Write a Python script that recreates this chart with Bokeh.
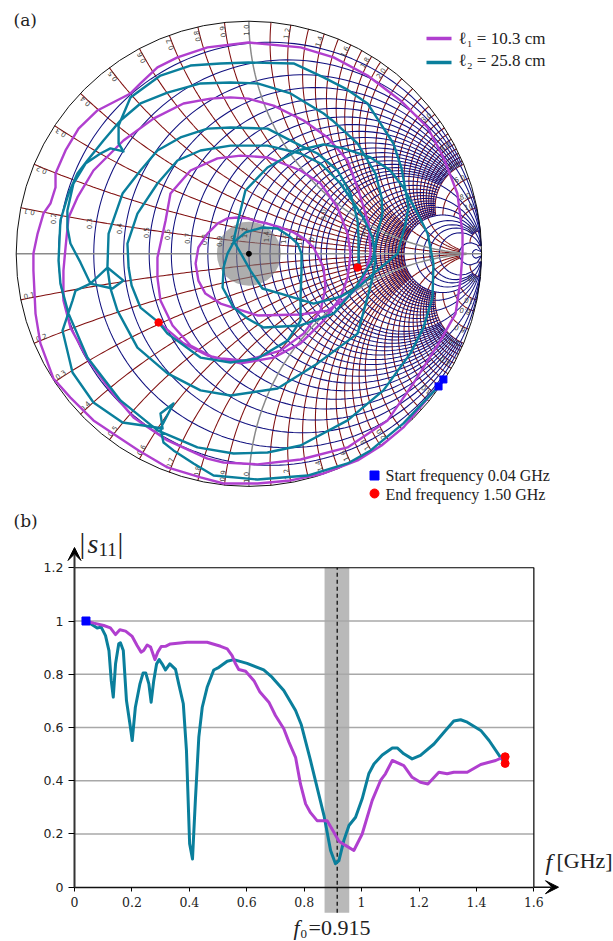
import numpy as np
from bokeh.embed import file_html
from bokeh.resources import INLINE
from bokeh.plotting import figure
from bokeh.layouts import column
from bokeh.models import FixedTicker, Arrow, VeeHead
from bokeh.core.properties import value

# ---------------- data ----------------
# (a) reflection coefficient traces on the Smith chart
l1_re = [.836,.664,.570,.467,.321,.179,.037,-.109,-.208,-.350,-.474,-.552,-.668,-.767,-.840,-.896,-.917,-.926,-.926,-.908,-.883,-.853,-.831,-.831,-.788,-.732,-.651,-.509,-.466,-.393,-.307,-.178,-.002,.222,.364,.510,.651,.768,.836,.896,.918,.918,.909,.888,.823,.707,.596,.424,.222,.037,-.109,-.178,-.350,-.496,-.595,-.689,-.767,-.797,-.797,-.788,-.775,-.737,-.668,-.539,-.410,-.281,-.165,-.079,-.002,.106,.235,.338,.424,.471,.514,.523,.492,.424,.338,.222,.037,-.122,-.187,-.217,-.229,-.217,-.178,-.135,-.092,-.049,-.006,.037,.080,.136,.192,.243,.278,.321,.329,.308,.235,.136,-.015,-.152,-.251,-.328,-.380,-.393,-.393,-.358,-.337,-.251,-.135,-.036,.080,.222,.308,.381,.424,.437,.424,.394,.321,.222,.106,-.036,-.178,-.281,-.388]
l1_im = [-.540,-.746,-.824,-.888,-.944,-.974,-.987,-.987,-.961,-.918,-.845,-.794,-.716,-.618,-.536,-.385,-.257,-.072,.001,.087,.173,.216,.285,.345,.444,.538,.616,.689,.732,.801,.844,.887,.908,.887,.844,.766,.659,.543,.414,.259,.087,.001,-.115,-.257,-.373,-.557,-.716,-.832,-.884,-.905,-.897,-.880,-.802,-.703,-.587,-.459,-.317,-.201,-.072,.027,.156,.242,.358,.487,.581,.646,.667,.672,.667,.637,.573,.500,.401,.272,.130,.001,-.115,-.188,-.244,-.261,-.265,-.214,-.171,-.115,-.042,.027,.087,.130,.152,.156,.152,.139,.130,.113,.092,.061,.027,-.059,-.145,-.244,-.343,-.416,-.459,-.446,-.394,-.308,-.201,-.102,-.016,.143,.259,.358,.410,.422,.414,.358,.302,.199,.087,.001,-.102,-.188,-.287,-.385,-.446,-.471,-.437,-.385,-.295]
l2_re = [.815,.664,.523,.424,.252,.037,-.152,-.238,-.324,-.367,-.380,-.324,-.380,-.371,-.453,-.543,-.668,-.758,-.801,-.758,-.745,-.681,-.608,-.539,-.586,-.681,-.724,-.767,-.780,-.780,-.754,-.702,-.638,-.595,-.539,-.560,-.560,-.509,-.380,-.251,-.122,-.002,.192,.321,.415,.510,.557,.621,.656,.677,.686,.673,.639,.535,.480,.394,.278,.136,.058,.007,-.066,-.036,-.015,.080,.209,.321,.407,.523,.608,.664,.725,.768,.793,.789,.750,.694,.578,.424,.222,.080,-.066,-.221,-.393,-.552,-.694,-.775,-.810,-.818,-.810,-.775,-.737,-.694,-.625,-.552,-.466,-.350,-.208,-.079,.037,.179,.321,.359,.467,.544,.570,.574,.553,.531,.450,.364,.222,.063,-.006,-.066,-.113,-.109,-.092,-.066,-.015,.058,.123,.170,.209,.226,.226,.222,.222,.166,.037,-.079,-.208,-.350,-.388,-.466,-.504,-.517,-.522,-.479,-.393,-.307,-.208,-.079,.080,.222,.308,.394,.492,.531,.544,.531,.514,.467,.295,.123,-.079,-.208,-.350,-.479,-.565,-.595,-.608,-.603,-.543,-.466,-.393,-.294,-.178,-.079,.080,.222,.295,.381,.437,.467,.471,.471,.467]
l2_im = [-.570,-.729,-.845,-.901,-.953,-.970,-.953,-.901,-.845,-.811,-.751,-.643,-.686,-.751,-.738,-.725,-.639,-.510,-.330,-.201,-.158,-.128,-.059,-.115,-.149,-.128,-.037,.044,.113,.186,.302,.388,.431,.453,.440,.474,.551,.672,.766,.809,.818,.822,.818,.758,.710,.646,.573,.474,.367,.251,.199,.130,.001,-.085,-.136,-.184,-.214,-.171,-.149,-.072,.057,.186,.272,.371,.444,.470,.453,.414,.358,.285,.173,.087,-.042,-.188,-.317,-.428,-.587,-.716,-.824,-.854,-.858,-.832,-.759,-.630,-.446,-.257,-.128,-.029,.143,.259,.345,.401,.487,.573,.646,.693,.732,.736,.732,.689,.603,.573,.474,.345,.242,.173,.087,-.029,-.158,-.257,-.308,-.317,-.278,-.231,-.145,-.059,.001,.049,.092,.113,.109,.079,.044,.001,-.072,-.188,-.287,-.373,-.450,-.467,-.446,-.343,-.295,-.231,-.136,-.059,.044,.173,.302,.401,.444,.465,.465,.431,.388,.302,.156,.070,-.029,-.102,-.171,-.343,-.471,-.579,-.609,-.587,-.514,-.403,-.244,-.149,-.059,.087,.259,.358,.444,.500,.538,.543,.538,.465,.431,.358,.259,.143,.070,-.042,-.059]

# (b) |s11| versus frequency
f1 = [.04,.067,.102,.125,.143,.158,.178,.201,.218,.232,.241,.253,.265,.28,.29,.302,.317,.334,.392,.462,.509,.532,.549,.561,.572,.596,.625,.646,.677,.70,.729,.747,.77,.787,.805,.822,.845,.88,.903,.921,.944,.973,1.002,1.037,1.066,1.083,1.107,1.147,1.176,1.205,1.231,1.269,1.298,1.321,1.368,1.415,1.467,1.491,1.5]
s1 = [1.0,.992,.983,.974,.949,.967,.962,.942,.908,.883,.889,.91,.902,.855,.883,.904,.905,.914,.92,.92,.905,.895,.87,.839,.818,.811,.776,.733,.695,.645,.595,.545,.488,.388,.313,.28,.25,.25,.207,.173,.157,.138,.2,.326,.401,.426,.476,.457,.413,.394,.388,.432,.426,.432,.432,.461,.476,.488,.49]
f2 = [.04,.06,.079,.093,.108,.12,.128,.135,.143,.154,.16,.17,.181,.193,.201,.212,.228,.239,.248,.259,.267,.276,.286,.295,.305,.317,.332,.352,.363,.379,.39,.401,.411,.421,.433,.445,.462,.485,.503,.532,.555,.601,.659,.688,.729,.77,.79,.822,.869,.892,.909,.921,.938,.956,.979,1.002,1.025,1.043,1.072,1.107,1.124,1.147,1.176,1.205,1.252,1.287,1.321,1.345,1.368,1.415,1.444,1.485,1.5]
s2 = [1.0,.987,.974,.977,.945,.889,.776,.714,.839,.914,.918,.889,.701,.614,.551,.676,.764,.805,.805,.764,.695,.776,.839,.855,.839,.816,.839,.818,.764,.689,.513,.163,.106,.326,.564,.676,.751,.816,.826,.849,.855,.841,.816,.789,.739,.664,.61,.476,.269,.138,.088,.1,.175,.232,.263,.332,.426,.463,.497,.523,.523,.501,.482,.495,.538,.582,.624,.629,.62,.589,.551,.486,.465]

x_tick_values = [.1,.2,.3,.4,.5,.6,.7,.8,.9,1,1.2,1.4,1.6,1.8,2,3,4,5,6,8,10,20]
x_tick_labels = ["0.1","0.2","0.3","0.4","0.5","0.6","0.7","0.8","0.9","1.0","1.2","1.4","1.6","1.8","2.0","3.0","4.0","5.0","6.0","8.0","10","20"]
r_tick_labels = ["0.2","0.3","0.4","0.5","0.6","0.7","0.8","0.9","1.0","1.2","1.4","1.6","1.8","2.0","3.0","4.0","5.0"]
r_tick_re = [-.840,-.689,-.560,-.444,-.350,-.268,-.195,-.130,-.070,-.019,.072,.145,.214,.265,.317,.489,.588]
r_tick_im = [.151,.129,.108,.091,.082,.066,.061,.053,.057,.091,.074,.066,.057,.048,.168,.097,.070]
f_ticks = [0,.2,.4,.6,.8,1,1.2,1.4,1.6]
s_ticks = [0,.2,.4,.6,.8,1,1.2]

MAG = "#b03fcf"
TEAL = "#0a7f9c"
R_COL = "#10107f"
X_COL = "#800f0f"
GRAY = "#8a8a8a"
SERIF = value("Liberation Serif")
DSERIF = value("DejaVu Serif")

# ---------------- (a) Smith chart ----------------
CX, CY, RAD = 248.4, 253.3, 232.7
def gx(px): return (px - CX) / RAD
def gy(py): return (CY - py) / RAD

p1 = figure(width=613, height=510, x_range=(gx(0), gx(613)), y_range=(gy(510), gy(0)),
            output_backend="svg", toolbar_location=None, min_border=0, outline_line_color=None)
p1.axis.visible = False
p1.grid.visible = False

def gam(z):
    return (z - 1) / (z + 1)

def r_arc(r, x0, x1):
    t = np.tan(np.linspace(np.arctan(x0), np.arctan(x1), 160))
    g = gam(r + 1j * t)
    return g.real.tolist(), g.imag.tolist()

def x_arc(x, r0, r1):
    t = np.tan(np.linspace(np.arctan(r0), np.arctan(r1), 120))
    g = gam(t + 1j * x)
    return g.real.tolist(), g.imag.tolist()

dense = [round(v, 2) for v in list(np.arange(.1, 2.01, .1)) + list(np.arange(2.2, 5.01, .2))]
rx, ry = [], []
def add_r(r, a, b):
    xs, ys = r_arc(r, a, b)
    rx.append(xs); ry.append(ys)
for r in dense:
    add_r(r, -5, 5)
for r in (6, 7, 8, 10):
    add_r(r, -20, 20)
for r in (20, 50):
    add_r(r, -200, 200)
for r in (.2, .5, 1, 2, 3, 4, 5):
    add_r(r, 5, 20); add_r(r, -20, -5)
for r in (1, 2, 5, 10):
    add_r(r, 20, 60); add_r(r, -60, -20)

xx, xy = [], []
def add_x(x, a, b):
    for s in (1, -1):
        xs, ys = x_arc(s * x, a, b)
        xx.append(xs); xy.append(ys)
for x in dense:
    if x != 1:
        add_x(x, 0, 5)
for x in (6, 8, 10):
    add_x(x, 0, 5)
for x in (20, 50):
    add_x(x, 0, 20)
for x in (.5, 2, 3, 4):
    add_x(x, 5, 20)

p1.multi_line(xx, xy, line_color=X_COL, line_width=1.05)
p1.multi_line(rx, ry, line_color=R_COL, line_width=1.05)

gxs1, gys1 = x_arc(1, 0, 30)
gxs2, gys2 = x_arc(-1, 0, 30)
p1.multi_line([gxs1, gxs2, [-1, 1]], [gys1, gys2, [0, 0]], line_color=GRAY, line_width=1.5)

p1.circle(x=[0], y=[0], radius=[.1375], fill_color="#7d7d7d", fill_alpha=.62, line_color=None)
p1.scatter(x=[0], y=[0], size=5, marker="circle", fill_color="black", line_color="black")
p1.circle(x=[0], y=[0], radius=[1], fill_color=None, line_color="#111111", line_width=1)

# reactance labels around the rim
up_t, up_a, up_x, up_y, lo_t, lo_a, lo_x, lo_y = [], [], [], [], [], [], [], []
for v, t in zip(x_tick_values, x_tick_labels):
    g = gam(0 + 1j * v)
    a = np.angle(g)
    up_t.append(t); up_a.append(a); up_x.append(g.real * .985); up_y.append(g.imag * .985)
    lo_t.append(t); lo_a.append(-a + np.pi); lo_x.append(g.real * .985); lo_y.append(-g.imag * .985)
p1.text(up_x, up_y, text=up_t, angle=up_a, text_align="right", text_baseline="bottom",
        text_font=value("DejaVu Sans"), text_font_size="7px", text_color="#444444")
p1.text(lo_x, lo_y, text=lo_t, angle=lo_a, text_align="left", text_baseline="bottom",
        text_font=value("DejaVu Sans"), text_font_size="7px", text_color="#444444")
p1.text(r_tick_re, r_tick_im, text=r_tick_labels, angle=np.pi / 2, text_align="center", text_baseline="middle",
        text_font=value("DejaVu Sans"), text_font_size="7px", text_color="#444444")

p1.line(l1_re, l1_im, line_color=MAG, line_width=2.4, line_join="round")
p1.line(l2_re, l2_im, line_color=TEAL, line_width=2.4, line_join="round")

p1.scatter([l1_re[0], l2_re[0]], [l1_im[0], l2_im[0]], marker="square", size=7, fill_color="#0000ff", line_color="#0000ff")
p1.scatter([l1_re[-1], l2_re[-1]], [l1_im[-1], l2_im[-1]], marker="circle", size=7.5, fill_color="#ff0000", line_color="#ff0000")

# legends and panel label
p1.text([gx(13)], [gy(19)], text=["(a)"], text_font=DSERIF, text_font_size="17px",
        text_align="left", text_baseline="middle", text_color="#222222")
p1.line([gx(426), gx(451)], [gy(38), gy(38)], line_color=MAG, line_width=3.5)
p1.line([gx(426), gx(451)], [gy(62), gy(62)], line_color=TEAL, line_width=3.5)
p1.text([gx(458), gx(458)], [gy(38), gy(60)], text=["ℓ₁ = 10.3 cm", "ℓ₂ = 25.8 cm"], text_font=SERIF,
        text_font_size="17px", text_align="left", text_baseline="middle", text_color="#222222")
p1.scatter([gx(374)], [gy(475)], marker="square", size=9, fill_color="#0000ff", line_color="#0000ff")
p1.scatter([gx(374)], [gy(493)], marker="circle", size=9, fill_color="#ff0000", line_color="#ff0000")
p1.text([gx(385), gx(385)], [gy(475), gy(494)], text=["Start frequency 0.04 GHz", "End frequency 1.50 GHz"],
        text_font=SERIF, text_font_size="16px", text_align="left", text_baseline="middle", text_color="#222222")

# ---------------- (b) |s11| ----------------
X0, XS, Y0, YS = 74.0, 287.1, 886.7, 266.2
def fx(px): return (px - X0) / XS
def fy(py): return (Y0 - py) / YS

p2 = figure(width=613, height=431, x_range=(fx(0), fx(613)), y_range=(fy(941), fy(510)),
            output_backend="svg", toolbar_location=None, min_border=0, outline_line_color=None)
p2.grid.visible = False

p2.quad(left=[.871], right=[.957], bottom=[fy(912.3)], top=[1.2], fill_color="#b9b9b9", line_color=None)
p2.segment(x0=[0] * 5, x1=[1.6] * 5, y0=s_ticks[1:6], y1=s_ticks[1:6], line_color="#a8a8a8", line_width=1.5)
p2.segment(x0=[.915], x1=[.915], y0=[fy(912.3)], y1=[1.2], line_color="black", line_width=1.2, line_dash="4 3")
p2.multi_line([[0, 1.6, 1.6]], [[1.2, 1.2, 0]], line_color="black", line_width=1.2)

xa = p2.xaxis[0]
xa.fixed_location = 0
xa.bounds = (0, 1.6)
xa.ticker = FixedTicker(ticks=f_ticks)
xa.major_label_overrides = {v: ("%g" % v) for v in f_ticks}
xa.major_label_text_font = "DejaVu Serif"
xa.major_label_text_font_size = "12.5px"
xa.major_label_text_color = "#222222"
xa.major_tick_out = 4
xa.major_tick_in = 0
xa.minor_tick_line_color = None
xa.axis_line_color = "#111111"
xa.axis_line_width = 1.5
xa.major_label_standoff = 6

ya = p2.yaxis[0]
ya.fixed_location = 0
ya.bounds = (0, 1.2)
ya.ticker = FixedTicker(ticks=s_ticks)
ya.major_label_overrides = {v: ("%g" % v) for v in s_ticks}
ya.major_label_text_font = "DejaVu Sans"
ya.major_label_text_font_size = "12.5px"
ya.major_label_text_color = "#222222"
ya.major_tick_out = 6
ya.major_tick_in = 0
ya.minor_tick_line_color = None
ya.axis_line_color = "#333333"
ya.axis_line_width = 2
ya.major_label_standoff = 5

p2.add_layout(Arrow(end=VeeHead(size=13, fill_color="black", line_color="black"),
                    x_start=0, y_start=1.2, x_end=0, y_end=fy(547), line_width=2, line_color="#333333"))
p2.add_layout(Arrow(end=VeeHead(size=13, fill_color="black", line_color="black"),
                    x_start=1.6, y_start=0, x_end=fx(558), y_end=0, line_width=1.5, line_color="#111111"))

p2.line(f2, s2, line_color=TEAL, line_width=3, line_join="round")
p2.line(f1, s1, line_color=MAG, line_width=3, line_join="round")
p2.scatter([.04], [1.0], marker="square", size=8, fill_color="#0000ff", line_color="#0000ff")
p2.scatter([1.5, 1.5], [.49, .465], marker="circle", size=8, fill_color="#ff0000", line_color="#ff0000")

def label(x, y, t, size, style="normal", font=SERIF, align="left"):
    p2.text([fx(x)], [fy(y)], text=[t], text_font=font, text_font_size=size, text_font_style=style,
            text_align=align, text_baseline="middle", text_color="#222222")

label(13, 520, "(b)", "17px", font=DSERIF)
label(79, 542, "|", "29px")
label(87, 543, "s", "28px", "italic")
label(98, 549, "11", "19px")
label(117, 542, "|", "29px")
label(545, 861, "f", "24px", "italic")
label(556, 860, "[GHz]", "22px")
label(293, 927, "f", "22px", "italic")
label(300, 933, "0", "13px")
label(308, 927, "=0.915", "22px")

open("out.html", "w").write(file_html(column(p1, p2, spacing=0), INLINE))
